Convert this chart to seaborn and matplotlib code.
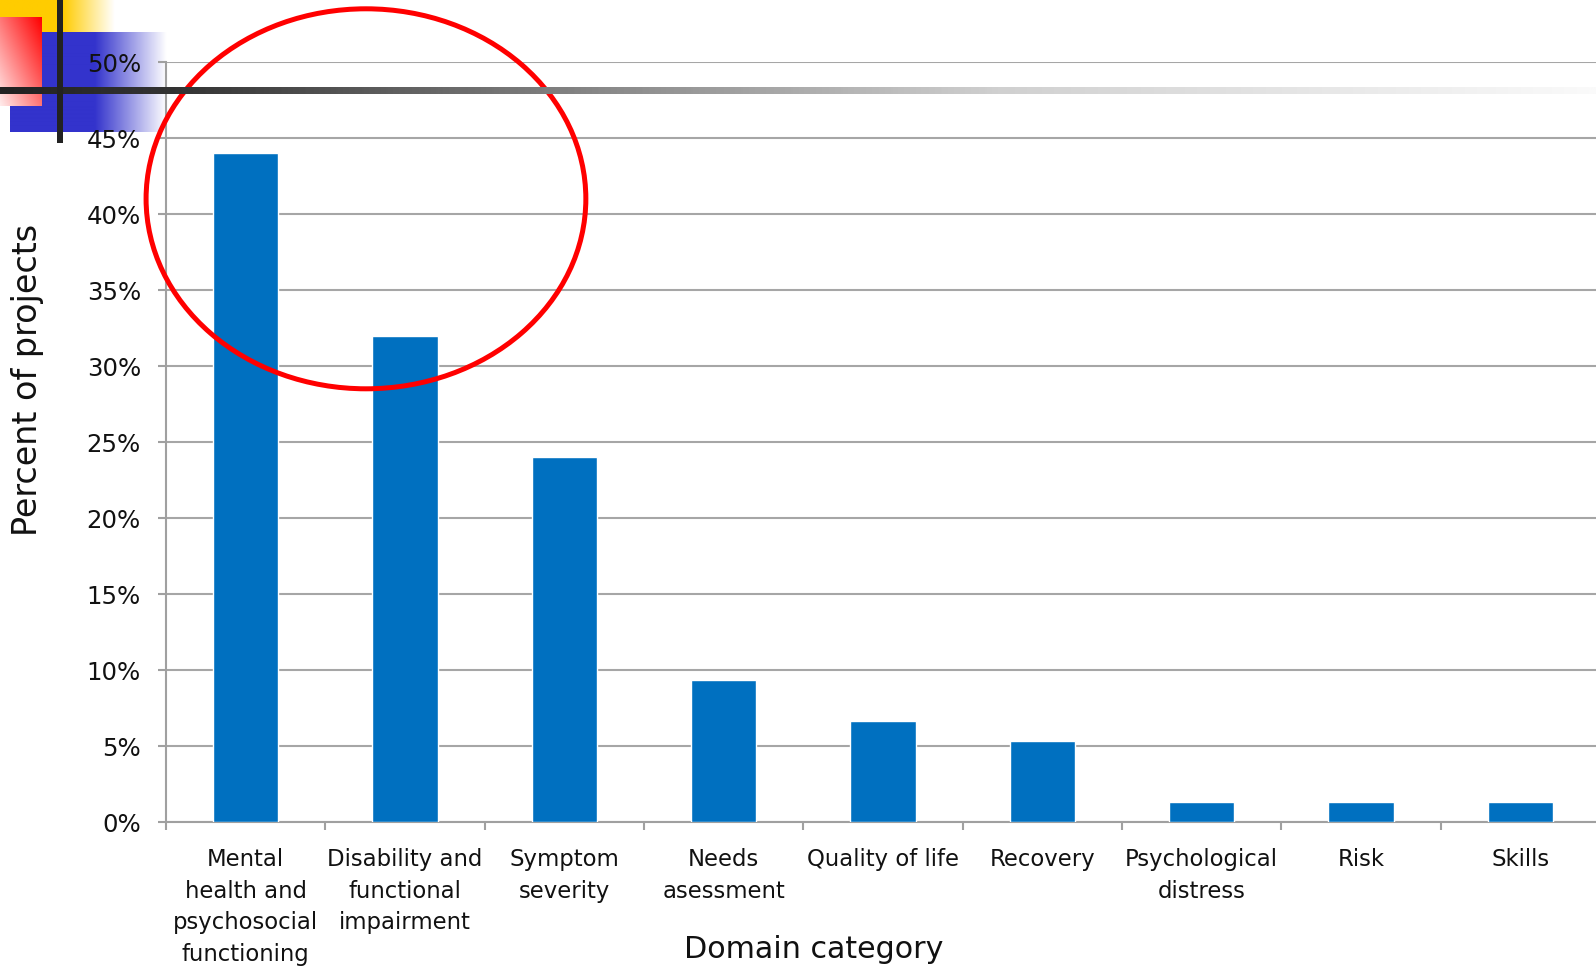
import numpy as np
import pandas as pd
import matplotlib
matplotlib.use("Agg")
import matplotlib.pyplot as plt
from matplotlib.patches import Ellipse
from matplotlib.colors import LinearSegmentedColormap
import seaborn as sns

# Domain categories and share of projects using each
categories = [
    "Mental\nhealth and\npsychosocial\nfunctioning",
    "Disability and\nfunctional\nimpairment",
    "Symptom\nseverity",
    "Needs\nasessment",
    "Quality of life",
    "Recovery",
    "Psychological\ndistress",
    "Risk",
    "Skills",
]
shares = [0.44, 0.32, 0.24, 0.0933, 0.0667, 0.0533, 0.0133, 0.0133, 0.0133]
y_ticks = [0.0, 0.05, 0.10, 0.15, 0.20, 0.25, 0.30, 0.35, 0.40, 0.45, 0.50]

sns.set_theme(style="white")
plt.rcParams["font.family"] = ["DejaVu Sans"]

W, H = 1596, 969
fig = plt.figure(figsize=(W / 100, H / 100), dpi=100)
fig.patch.set_facecolor("white")

# ---- slide decoration (pixel coordinates) ----
bg = fig.add_axes([0, 0, 1, 1], zorder=0)
bg.set_xlim(0, W)
bg.set_ylim(H, 0)
bg.axis("off")

# yellow block
yel = np.ones((1, 120, 4))
solid = np.array(matplotlib.colors.to_rgba("#FFCC00"))
for i in range(120):
    x = i / 119 * 115
    t = 0 if x < 63 else min(1, (x - 63) / 52)
    yel[0, i] = solid * (1 - t) + np.array([1, 1, 1, 1]) * t
bg.imshow(yel, extent=[0, 115, 95, 0], aspect="auto", zorder=1, interpolation="bilinear")

# blue block
blu = np.ones((1, 160, 4))
bsolid = np.array(matplotlib.colors.to_rgba("#3333CC"))
for i in range(160):
    x = 10 + i / 159 * 160
    t = 0 if x < 95 else min(1, (x - 95) / 72)
    blu[0, i] = bsolid * (1 - t) + np.array([1, 1, 1, 1]) * t
bg.imshow(blu, extent=[10, 170, 132, 32], aspect="auto", zorder=2, interpolation="bilinear")

# red block with diagonal fade
gy, gx = np.mgrid[0:1:60j, 0:1:40j]
t = np.clip((gx + (1 - gy)) / 2, 0, 1)
red = np.ones((60, 40, 4))
red[..., 0] = 1.0
red[..., 1] = 0.92 * (1 - t)
red[..., 2] = 0.92 * (1 - t)
bg.imshow(red, extent=[0, 42, 106, 17], aspect="auto", zorder=3, interpolation="bilinear")

# ---- bar chart ----
df = pd.DataFrame({"category": categories, "share": shares})
ax = fig.add_axes([166 / W, 1 - 822 / H, (1600 - 166) / W, (822 - 62) / H], zorder=2)
ax.patch.set_alpha(0)
sns.barplot(data=df, x="category", y="share", color="#0070C0", width=0.41,
            saturation=1, ax=ax, zorder=3)
ax.set_xlim(-0.5, len(categories) - 0.5)
ax.set_ylim(0, 0.5)
ax.set_yticks(y_ticks)
ax.set_yticklabels([f"{v:.0%}" for v in y_ticks], fontsize=17.6, color="#111111")
ax.set_xticks(range(len(categories)))
ax.set_xticklabels(categories, fontsize=16.4, color="#111111", linespacing=1.47,
                   multialignment="center")
ax.set_xticks(np.arange(-0.5, len(categories)), minor=True)
ax.tick_params(axis="x", which="major", length=0, pad=19)
ax.tick_params(axis="x", which="minor", length=6, width=1.5, color="#a0a0a0",
               direction="out", bottom=True)
ax.tick_params(axis="y", length=6, width=1.5, color="#a0a0a0", direction="out",
               left=True, pad=12)
ax.set_xlabel("")
ax.set_ylabel("")
ax.yaxis.grid(True, color="#a6a6a6", linewidth=1.5, zorder=0)
ax.xaxis.grid(False)
ax.set_axisbelow(True)
for s in ["top", "right"]:
    ax.spines[s].set_visible(False)
for s in ["left", "bottom"]:
    ax.spines[s].set_color("#a0a0a0")
    ax.spines[s].set_linewidth(1.5)

# highlight ring around the two leading domains
ring = Ellipse((0.755, 0.410), width=2.76, height=0.25, fill=False,
               edgecolor="#FF0000", linewidth=3.6, clip_on=False, zorder=10)
ax.add_patch(ring)

fig.text(27.5 / W, 1 - 380 / H, "Percent of projects", rotation=90,
         ha="center", va="center", fontsize=24, color="#111111")
fig.text(814 / W, 1 - 949 / H, "Domain category", ha="center", va="center",
         fontsize=21.7, color="#111111")

# ---- slide rules drawn above the chart ----
fg = fig.add_axes([0, 0, 1, 1], zorder=5)
fg.set_xlim(0, W)
fg.set_ylim(H, 0)
fg.axis("off")
fg.patch.set_alpha(0)
line_cmap = LinearSegmentedColormap.from_list(
    "rule", [(0, "#222222"), (170 / W, "#333333"), (600 / W, "#888888"),
             (1000 / W, "#d0d0d0"), (1, "#fafafa")])
rule = line_cmap(np.linspace(0, 1, 800))[None, :, :]
fg.imshow(rule, extent=[0, W, 93.5, 86.5], aspect="auto", interpolation="bilinear")
fg.add_patch(plt.Rectangle((57, 0), 6, 143, color="#222222", linewidth=0))

fig.savefig("out.png", dpi=100)
